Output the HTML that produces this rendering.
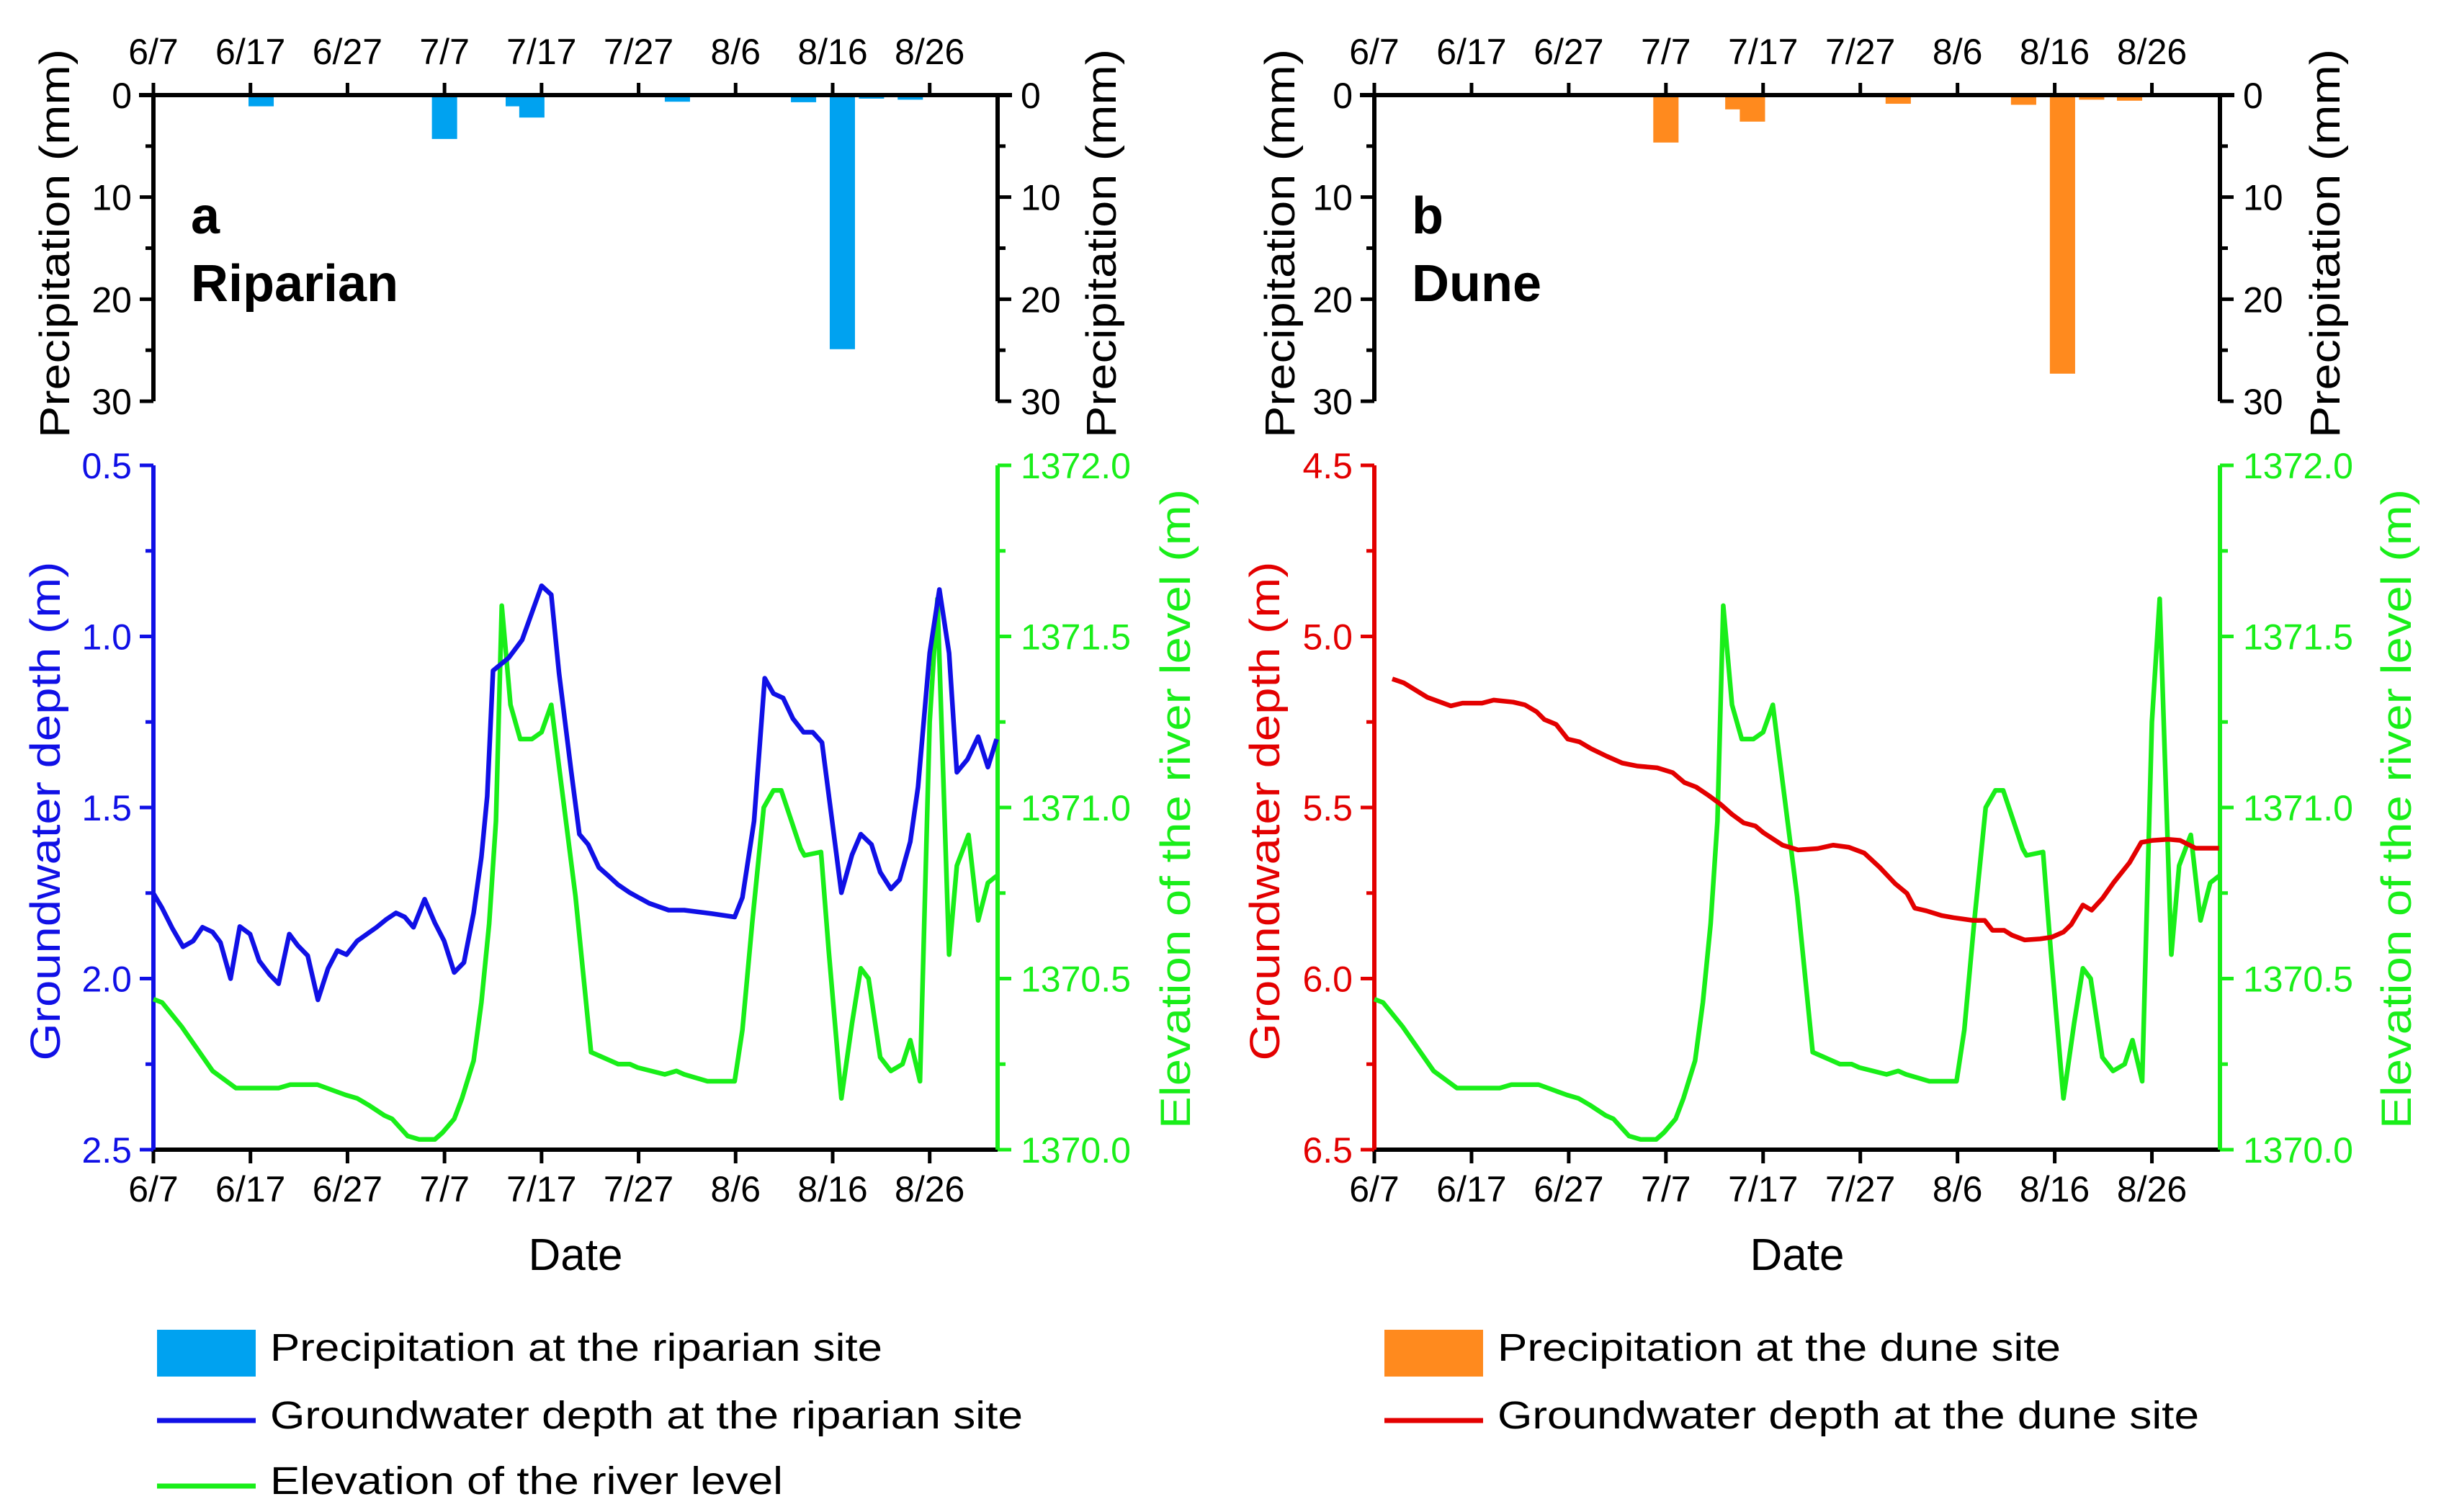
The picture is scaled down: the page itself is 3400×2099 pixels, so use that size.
<!DOCTYPE html>
<html><head><meta charset="utf-8"><style>
html,body{margin:0;padding:0;background:#fff}
svg{display:block}
text{font-family:"Liberation Sans",Arial,sans-serif}
</style></head><body>
<svg id="fig" width="3400" height="2099" viewBox="0 0 3400 2099" xmlns="http://www.w3.org/2000/svg"></svg>
<script>
// ---- data (day offsets from 6/7) ----
const tickDays = [0,10,20,30,40,50,60,70,80];
const tickLabels = ["6/7","6/17","6/27","7/7","7/17","7/27","8/6","8/16","8/26"];
const riverDays = [0,0.9,2.9,6.1,8.5,12.9,14.1,16.9,19.8,21,22.2,23.8,24.6,26.2,27.4,29,29.8,31,31.8,33,33.8,34.6,35.3,35.9,36.8,37.8,39,40,41,41.8,43.5,45.1,46.3,47.9,49.1,49.9,52.7,53.9,54.7,57.1,59.9,60.7,61.7,62.9,63.9,64.7,66.7,67.1,68.8,69.6,70.9,72,72.9,73.7,74.9,76,77.2,78,79,80,80.8,82,82.8,84,85,86,86.9];
const riverLevel = [1370.44,1370.43,1370.36,1370.23,1370.18,1370.18,1370.19,1370.19,1370.16,1370.15,1370.13,1370.10,1370.09,1370.04,1370.03,1370.03,1370.05,1370.09,1370.15,1370.26,1370.43,1370.66,1370.96,1371.59,1371.30,1371.2,1371.2,1371.22,1371.3,1371.12,1370.74,1370.285,1370.27,1370.25,1370.25,1370.24,1370.22,1370.23,1370.22,1370.2,1370.2,1370.35,1370.66,1371.0,1371.05,1371.05,1370.88,1370.86,1370.87,1370.58,1370.15,1370.37,1370.53,1370.5,1370.27,1370.23,1370.25,1370.32,1370.2,1371.25,1371.61,1370.57,1370.83,1370.92,1370.67,1370.78,1370.8];
const ripDays = [0,0.88,1.93,3.05,4.1,5.06,6.1,6.9,7.95,8.9,9.96,10.9,11.97,12.9,14,14.9,15.9,16.95,18,18.96,19.9,21,22,23,24,25,25.9,26.8,27.95,29,29.96,31,32,33,33.8,34.4,35,36.6,38,40,41,41.8,43.05,43.9,44.8,45.9,46.9,47.9,49.1,50,51.1,53.1,54.7,57.5,59.9,60.7,61.9,63,63.9,64.9,65.9,67,67.95,68.9,70.9,72,72.9,74,74.9,76,76.9,78,78.8,80,81,82,82.8,83.9,85,86,86.9];
const ripDepth = [1.751,1.793,1.852,1.907,1.89,1.85,1.864,1.894,2.0,1.848,1.87,1.948,1.988,2.015,1.87,1.904,1.933,2.062,1.97,1.918,1.93,1.89,1.87,1.85,1.827,1.808,1.82,1.85,1.768,1.837,1.89,1.982,1.953,1.808,1.645,1.467,1.10,1.063,1.01,0.852,0.878,1.107,1.393,1.578,1.608,1.675,1.70,1.726,1.749,1.763,1.78,1.80,1.80,1.81,1.82,1.763,1.54,1.122,1.167,1.18,1.24,1.28,1.28,1.31,1.749,1.638,1.578,1.608,1.689,1.738,1.711,1.6,1.44,1.049,0.863,1.049,1.397,1.359,1.293,1.382,1.30];
const duneDays = [1.85,3.05,5.46,7.87,9.07,11.08,12.28,14.29,15.49,16.69,17.5,18.7,19.9,21.1,22.3,23.9,25.5,27.1,29.1,30.7,31.9,33.1,34.3,35.6,36.8,38,39.2,40,42,43.6,45.6,47.2,48.8,50.4,52,53.6,54.8,55.6,56.8,58.4,59.6,61.6,62.8,63.6,64.8,65.6,66.9,68.5,69.7,70.9,71.7,72.9,73.8,74.9,76.1,77.7,78.9,80.1,81.7,82.9,84.5,86.9];
const duneDepth = [5.124,5.136,5.178,5.203,5.195,5.195,5.186,5.192,5.2,5.22,5.243,5.257,5.3,5.308,5.328,5.35,5.37,5.379,5.384,5.398,5.427,5.44,5.463,5.49,5.52,5.545,5.554,5.573,5.61,5.624,5.62,5.61,5.616,5.633,5.675,5.723,5.751,5.794,5.802,5.816,5.822,5.83,5.83,5.859,5.859,5.873,5.887,5.884,5.879,5.864,5.842,5.785,5.8,5.766,5.718,5.661,5.602,5.596,5.593,5.596,5.619,5.619];
const ripRainDays = [11.1,30,37.6,39,54,67,71,74,78,86.2];
const ripRain = [1.1,4.3,1.1,2.2,0.65,0.7,24.9,0.35,0.45,0.15];
const duneRainDays = [30,37.4,38.9,53.9,66.8,70.8,73.8,77.7];
const duneRain = [4.65,1.4,2.6,0.85,0.95,27.3,0.45,0.55];

const NS="http://www.w3.org/2000/svg";
const svg=document.getElementById('fig');
function el(tag,attrs,parent,txt){const e=document.createElementNS(NS,tag);for(const k in attrs)e.setAttribute(k,attrs[k]);if(txt!==undefined)e.textContent=txt;(parent||svg).appendChild(e);return e;}

const T0=132,T1=557,B0=646,B1=1596,DMAX=87;
const BLUE="#1010e6",GREEN="#19ee19",RED="#e30000",RAINB="#00a2f0",RAINO="#ff8a1e";
const FS=50;

function panel(o){
  const g=el('g',{});
  
  
  const L=o.L,R=o.R;
  const x=d=>L+(R-L)*d/DMAX;
  const yP=v=>T0+(T1-T0)*v/30;
  const yG=v=>B0+(B1-B0)*(v-o.gMin)/(o.gMax-o.gMin);
  const yR=v=>B1-(B1-B0)*(v-1370)/2;
  const bw=(R-L)*2.6/DMAX;
  o.rainDays.forEach((d,i)=>{
    const b=el('rect',{x:x(d)-bw/2,y:T0,width:bw,height:yP(o.rain[i])-T0,fill:o.rainColor},g);
    
    
  });
  el('line',{x1:L-20,y1:T0,x2:R+20,y2:T0,stroke:'#000','stroke-width':6},g);
  el('line',{x1:L,y1:T0,x2:L,y2:T1,stroke:'#000','stroke-width':6},g);
  el('line',{x1:R,y1:T0,x2:R,y2:T1,stroke:'#000','stroke-width':6},g);
  tickDays.forEach((d,i)=>{
    el('line',{x1:x(d),y1:T0,x2:x(d),y2:T0-17,stroke:'#000','stroke-width':5},g);
    el('text',{x:x(d),y:89,'font-size':FS,'text-anchor':'middle'},g,tickLabels[i]);
    el('line',{x1:x(d),y1:B1,x2:x(d),y2:B1+19,stroke:'#000','stroke-width':5},g);
    el('text',{x:x(d),y:1668,'font-size':FS,'text-anchor':'middle'},g,tickLabels[i]);
  });
  [0,10,20,30].forEach(v=>{
    el('line',{x1:L-19,y1:yP(v),x2:L,y2:yP(v),stroke:'#000','stroke-width':5},g);
    el('line',{x1:R,y1:yP(v),x2:R+19,y2:yP(v),stroke:'#000','stroke-width':5},g);
    el('text',{x:L-30,y:yP(v)+18,'font-size':FS,'text-anchor':'end'},g,String(v));
    el('text',{x:R+32,y:yP(v)+18,'font-size':FS},g,String(v));
  });
  [5,15,25].forEach(v=>{
    el('line',{x1:L-11,y1:yP(v),x2:L,y2:yP(v),stroke:'#000','stroke-width':5},g);
    el('line',{x1:R,y1:yP(v),x2:R+11,y2:yP(v),stroke:'#000','stroke-width':5},g);
  });
  el('line',{x1:L-3,y1:B1,x2:R,y2:B1,stroke:'#000','stroke-width':6},g);
  el('line',{x1:L,y1:B0,x2:L,y2:B1,stroke:o.gColor,'stroke-width':6},g);
  el('line',{x1:R,y1:B0,x2:R,y2:B1,stroke:GREEN,'stroke-width':6},g);
  for(let k=0;k<=8;k++){
    const v=o.gMin+k*(o.gMax-o.gMin)/8, major=k%2==0, len=major?19:11;
    el('line',{x1:L-len,y1:yG(v),x2:L,y2:yG(v),stroke:o.gColor,'stroke-width':5},g);
    if(major) el('text',{x:L-30,y:yG(v)+18,'font-size':FS,'text-anchor':'end',fill:o.gColor},g,v.toFixed(1));
    const r=1370+k*0.25;
    el('line',{x1:R,y1:yR(r),x2:R+len,y2:yR(r),stroke:GREEN,'stroke-width':5},g);
    if(major) el('text',{x:R+32,y:yR(r)+18,'font-size':FS,fill:GREEN},g,r.toFixed(1));
  }
  const rl=el('polyline',{points:riverDays.map((d,i)=>x(d)+','+yR(riverLevel[i])).join(' '),fill:'none',stroke:GREEN,'stroke-width':6.5,'stroke-linejoin':'round'},g);
  
  
  const gl=el('polyline',{points:o.gDays.map((d,i)=>x(d)+','+yG(o.gVals[i])).join(' '),fill:'none',stroke:o.gColor,'stroke-width':6.5,'stroke-linejoin':'round'},g);
  
  
  const t1=el('text',{transform:`translate(${o.pl},338) rotate(-90)`,'font-size':58,'text-anchor':'middle',textLength:540,lengthAdjust:'spacingAndGlyphs'},g,'Precipitation (mm)');
  
  const t2=el('text',{transform:`translate(${o.pr},338) rotate(-90)`,'font-size':58,'text-anchor':'middle',textLength:540,lengthAdjust:'spacingAndGlyphs'},g,'Precipitation (mm)');
  
  const t3=el('text',{transform:`translate(${o.gl},1126) rotate(-90)`,'font-size':58,'text-anchor':'middle',fill:o.gColor,textLength:693,lengthAdjust:'spacingAndGlyphs'},g,'Groundwater depth (m)');
  
  const t4=el('text',{transform:`translate(${o.el},1123) rotate(-90)`,'font-size':58,'text-anchor':'middle',fill:GREEN,textLength:888,lengthAdjust:'spacingAndGlyphs'},g,'Elevation of the river level (m)');
  
  const t5=el('text',{x:(L+R)/2,y:1763,'font-size':62,'text-anchor':'middle'},g,'Date');
  
  const t6=el('text',{x:L+52,y:324,'font-size':72,'font-weight':'bold'},g,o.letter);
  
  const t7=el('text',{x:L+52,y:418,'font-size':72,'font-weight':'bold'},g,o.site);
  
  const lg=el('g',{},g);
  
  el('rect',{x:o.lx,y:1846,width:137,height:65,fill:o.rainColor},lg);
  o.leg.forEach((t,i)=>{
    const cy=[1878,1972,2063][i];
    if(i>0) el('line',{x1:o.lx,y1:cy,x2:o.lx+137,y2:cy,stroke:i==1?o.gColor:GREEN,'stroke-width':7},lg);
    const lt=el('text',{x:o.lx+157,y:cy+11,'font-size':54,textLength:o.legW[i],lengthAdjust:'spacingAndGlyphs'},lg,t);
    
  });
}
panel({id:'riparian',L:213,R:1385,rainDays:ripRainDays,rain:ripRain,rainColor:RAINB,gDays:ripDays,gVals:ripDepth,gMin:0.5,gMax:2.5,gColor:BLUE,
  pl:96,pr:1549,gl:83,el:1652,letter:'a',site:'Riparian',lx:218,
  leg:['Precipitation at the riparian site','Groundwater depth at the riparian site','Elevation of the river level'],legW:[850,1045,712]});
panel({id:'dune',L:1908,R:3082,rainDays:duneRainDays,rain:duneRain,rainColor:RAINO,gDays:duneDays,gVals:duneDepth,gMin:4.5,gMax:6.5,gColor:RED,
  pl:1797,pr:3248,gl:1776,el:3347,letter:'b',site:'Dune',lx:1922,
  leg:['Precipitation at the dune site','Groundwater depth at the dune site'],legW:[782,974]});
</script>
</body></html>
